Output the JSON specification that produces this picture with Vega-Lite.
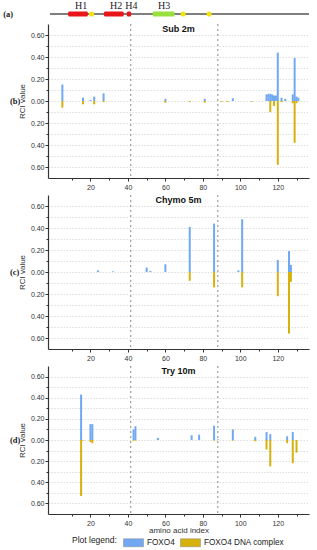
{
  "$schema": "https://vega.github.io/schema/vega-lite/v6.json",
  "padding": {"left": 3, "top": 0, "right": 5, "bottom": 1},
  "spacing": 17,
  "bounds": "flush",
  "config": {
    "view": {"stroke": null},
    "font": "Liberation Sans",
    "axis": {"labelFont": "Liberation Sans", "labelFontSize": 7, "labelColor": "#333", "labelOverlap": false, "domainColor": "#333", "domainWidth": 1.2, "tickColor": "#333", "tickSize": 3, "titleFont": "Liberation Sans", "titleFontSize": 8, "titleFontWeight": "normal", "titleColor": "#333"},
    "title": {"font": "Liberation Sans", "fontSize": 9, "fontWeight": "bold", "color": "#111", "anchor": "middle", "offset": -10}
  },
  "datasets": {
    "protein": [{"first": 1, "last": 134}],
    "helices": [
      {"helix": "H1", "start": 10.3, "end": 20.5, "label_at": 17},
      {"helix": "H2", "start": 28.7, "end": 38.9, "label_at": 35},
      {"helix": "H4", "start": 40.4, "end": 42.7, "label_at": 42.8},
      {"helix": "H3", "start": 53.7, "end": 65, "label_at": 59.6}
    ],
    "sites": [{"site": 22.4}, {"site": 69.4}, {"site": 82.7}],
    "cuts": [{"residue": 41.5}, {"residue": 88}],
    "sub": [
      {"idx": 5, "series": "FOXO4", "rci": 0.15}, {"idx": 16, "series": "FOXO4", "rci": 0.03}, {"idx": 20, "series": "FOXO4", "rci": 0.01}, {"idx": 22, "series": "FOXO4", "rci": 0.04}, {"idx": 27, "series": "FOXO4", "rci": 0.07}, {"idx": 60, "series": "FOXO4", "rci": 0.02}, {"idx": 81, "series": "FOXO4", "rci": 0.02}, {"idx": 96, "series": "FOXO4", "rci": 0.025}, {"idx": 114, "series": "FOXO4", "rci": 0.06}, {"idx": 115, "series": "FOXO4", "rci": 0.065}, {"idx": 116, "series": "FOXO4", "rci": 0.065}, {"idx": 117, "series": "FOXO4", "rci": 0.06}, {"idx": 118, "series": "FOXO4", "rci": 0.05}, {"idx": 119, "series": "FOXO4", "rci": 0.05}, {"idx": 120, "series": "FOXO4", "rci": 0.44}, {"idx": 122, "series": "FOXO4", "rci": 0.03}, {"idx": 124, "series": "FOXO4", "rci": 0.02}, {"idx": 128, "series": "FOXO4", "rci": 0.06}, {"idx": 129, "series": "FOXO4", "rci": 0.39}, {"idx": 130, "series": "FOXO4", "rci": 0.04}, {"idx": 131, "series": "FOXO4", "rci": 0.03},
      {"idx": 5, "series": "FOXO4 DNA complex", "rci": -0.06}, {"idx": 16, "series": "FOXO4 DNA complex", "rci": -0.03}, {"idx": 22, "series": "FOXO4 DNA complex", "rci": -0.03}, {"idx": 27, "series": "FOXO4 DNA complex", "rci": -0.01}, {"idx": 60, "series": "FOXO4 DNA complex", "rci": -0.015}, {"idx": 73, "series": "FOXO4 DNA complex", "rci": -0.008}, {"idx": 81, "series": "FOXO4 DNA complex", "rci": -0.015}, {"idx": 90, "series": "FOXO4 DNA complex", "rci": -0.008}, {"idx": 93, "series": "FOXO4 DNA complex", "rci": -0.008}, {"idx": 106, "series": "FOXO4 DNA complex", "rci": -0.006}, {"idx": 116, "series": "FOXO4 DNA complex", "rci": -0.1}, {"idx": 118, "series": "FOXO4 DNA complex", "rci": -0.045}, {"idx": 120, "series": "FOXO4 DNA complex", "rci": -0.58}, {"idx": 122, "series": "FOXO4 DNA complex", "rci": -0.01}, {"idx": 128, "series": "FOXO4 DNA complex", "rci": -0.02}, {"idx": 129, "series": "FOXO4 DNA complex", "rci": -0.38}, {"idx": 130, "series": "FOXO4 DNA complex", "rci": -0.02}
    ],
    "chymo": [
      {"idx": 24, "series": "FOXO4", "rci": 0.015}, {"idx": 32, "series": "FOXO4", "rci": 0.006}, {"idx": 50, "series": "FOXO4", "rci": 0.04}, {"idx": 52, "series": "FOXO4", "rci": 0.01}, {"idx": 60, "series": "FOXO4", "rci": 0.07}, {"idx": 73, "series": "FOXO4", "rci": 0.41}, {"idx": 86, "series": "FOXO4", "rci": 0.44}, {"idx": 99, "series": "FOXO4", "rci": 0.015}, {"idx": 101, "series": "FOXO4", "rci": 0.48}, {"idx": 120, "series": "FOXO4", "rci": 0.11}, {"idx": 126, "series": "FOXO4", "rci": 0.19}, {"idx": 127, "series": "FOXO4", "rci": 0.065},
      {"idx": 73, "series": "FOXO4 DNA complex", "rci": -0.08}, {"idx": 86, "series": "FOXO4 DNA complex", "rci": -0.14}, {"idx": 101, "series": "FOXO4 DNA complex", "rci": -0.14}, {"idx": 120, "series": "FOXO4 DNA complex", "rci": -0.22}, {"idx": 126, "series": "FOXO4 DNA complex", "rci": -0.56}, {"idx": 127, "series": "FOXO4 DNA complex", "rci": -0.09}
    ],
    "try": [
      {"idx": 15, "series": "FOXO4", "rci": 0.43}, {"idx": 20, "series": "FOXO4", "rci": 0.15}, {"idx": 21, "series": "FOXO4", "rci": 0.15}, {"idx": 43, "series": "FOXO4", "rci": 0.1}, {"idx": 44, "series": "FOXO4", "rci": 0.13}, {"idx": 56, "series": "FOXO4", "rci": 0.02}, {"idx": 74, "series": "FOXO4", "rci": 0.045}, {"idx": 78, "series": "FOXO4", "rci": 0.05}, {"idx": 86, "series": "FOXO4", "rci": 0.135}, {"idx": 88, "series": "FOXO4", "rci": 0.006}, {"idx": 96, "series": "FOXO4", "rci": 0.1}, {"idx": 108, "series": "FOXO4", "rci": 0.03}, {"idx": 114, "series": "FOXO4", "rci": 0.075}, {"idx": 116, "series": "FOXO4", "rci": 0.055}, {"idx": 125, "series": "FOXO4", "rci": 0.035}, {"idx": 128, "series": "FOXO4", "rci": 0.075},
      {"idx": 15, "series": "FOXO4 DNA complex", "rci": -0.53}, {"idx": 16, "series": "FOXO4 DNA complex", "rci": -0.006}, {"idx": 20, "series": "FOXO4 DNA complex", "rci": -0.02}, {"idx": 21, "series": "FOXO4 DNA complex", "rci": -0.03}, {"idx": 43, "series": "FOXO4 DNA complex", "rci": -0.006}, {"idx": 44, "series": "FOXO4 DNA complex", "rci": -0.006}, {"idx": 86, "series": "FOXO4 DNA complex", "rci": -0.006}, {"idx": 96, "series": "FOXO4 DNA complex", "rci": -0.006}, {"idx": 108, "series": "FOXO4 DNA complex", "rci": -0.012}, {"idx": 114, "series": "FOXO4 DNA complex", "rci": -0.09}, {"idx": 116, "series": "FOXO4 DNA complex", "rci": -0.25}, {"idx": 125, "series": "FOXO4 DNA complex", "rci": -0.03}, {"idx": 128, "series": "FOXO4 DNA complex", "rci": -0.22}, {"idx": 130, "series": "FOXO4 DNA complex", "rci": -0.12}
    ]
  },
  "vconcat": [
    {
      "width": 261, "height": 7,
      "layer": [
        {"data": {"name": "protein"}, "mark": {"type": "rule", "color": "#555", "strokeWidth": 1.5},
         "encoding": {"x": {"field": "first", "type": "quantitative", "scale": {"domain": [0, 134], "nice": false, "zero": false}, "axis": null}, "x2": {"field": "last"}, "y": {"datum": -1, "type": "quantitative", "scale": {"domain": [0, 1]}, "axis": null}}},
        {"data": {"name": "helices"}, "mark": {"type": "bar", "cornerRadius": 1.5},
         "encoding": {"x": {"field": "start", "type": "quantitative"}, "x2": {"field": "end"}, "y": {"datum": -0.64}, "y2": {"datum": -1.36}, "fill": {"field": "helix", "type": "nominal", "scale": {"domain": ["H1", "H2", "H3", "H4"], "range": ["#e8161b", "#e8161b", "#97e03e", "#e8161b"]}, "legend": null}}},
        {"data": {"name": "sites"}, "mark": {"type": "point", "filled": true, "color": "#f3e20c", "opacity": 1, "size": 26},
         "encoding": {"x": {"field": "site", "type": "quantitative"}, "y": {"datum": -1}}},
        {"data": {"name": "helices"}, "mark": {"type": "text", "font": "Liberation Serif", "fontSize": 10, "color": "#222", "baseline": "middle"},
         "encoding": {"x": {"field": "label_at", "type": "quantitative"}, "y": {"datum": 0.14}, "text": {"field": "helix"}}},
        {"data": {"values": [{}]}, "mark": {"type": "text", "font": "Liberation Serif", "fontWeight": "bold", "fontSize": 8.5, "align": "left", "baseline": "middle", "color": "#222"},
         "encoding": {"x": {"datum": -23}, "y": {"datum": -1}, "text": {"value": "(a)"}}}
      ]
    },
    {
      "width": 261, "height": 154,
      "title": {"text": "Sub 2m"},
      "resolve": {"axis": {"x": "independent", "y": "independent"}},
      "layer": [
        {"data": {"name": "sub"}, "mark": {"type": "bar", "size": 2, "orient": "vertical"},
         "encoding": {
           "x": {"field": "idx", "type": "quantitative", "scale": {"domain": [0, 134], "nice": false, "zero": false}, "axis": {"values": [20, 40, 60, 80, 100, 120], "labelFlush": false, "grid": false, "title": null, "labelPadding": 2}},
           "y": {"field": "rci", "type": "quantitative", "scale": {"domain": [-0.7, 0.7], "nice": false}, "axis": {"values": [-0.6, -0.4, -0.2, 0, 0.2, 0.4, 0.6], "labelExpr": "format(abs(datum.value), '.2f')", "labelFlush": false, "grid": true, "gridColor": "#d4d4d4", "gridDash": [1.5, 1.5], "gridWidth": 0.8, "title": "RCI value", "titlePadding": 4, "labelPadding": 1}},
           "y2": {"datum": 0},
           "color": {"field": "series", "type": "nominal", "scale": {"domain": ["FOXO4", "FOXO4 DNA complex"], "range": ["#70a8f2", "#d6b10d"]}, "legend": {"orient": "none", "legendX": 24, "legendY": 532, "direction": "horizontal", "title": "Plot legend:", "titleOrient": "left", "titleFontWeight": "normal", "titleFontSize": 8.5, "titleColor": "#222", "titlePadding": 6, "labelFontSize": 8.2, "labelColor": "#222", "labelOffset": 3, "columnPadding": 4, "symbolType": "M-1,-0.4H1V0.4H-1Z", "symbolSize": 400, "symbolStrokeColor": "#888", "symbolStrokeWidth": 0.5, "symbolOpacity": 1}}
         }},
        {"data": {"name": "cuts"}, "mark": {"type": "rule", "color": "#888", "strokeDash": [2, 3], "strokeWidth": 1},
         "encoding": {"x": {"field": "residue", "type": "quantitative", "axis": {"orient": "bottom", "values": [10, 30, 50, 70, 90, 110, 130], "labels": false, "domain": false, "grid": false, "tickSize": 2, "title": null}}}},
        {"mark": {"type": "rule", "color": "#555", "strokeWidth": 1},
         "encoding": {"y": {"datum": 0, "axis": {"orient": "left", "values": [-0.5, -0.3, -0.1, 0.1, 0.3, 0.5], "labels": false, "domain": false, "grid": true, "gridColor": "#d4d4d4", "gridDash": [1.5, 1.5], "gridWidth": 0.8, "tickSize": 2, "title": null}}}},
        {"data": {"values": [{}]}, "mark": {"type": "text", "font": "Liberation Serif", "fontWeight": "bold", "fontSize": 8.5, "align": "left", "baseline": "middle", "color": "#222"},
         "encoding": {"x": {"datum": -23, "axis": null}, "y": {"datum": 0, "axis": null}, "text": {"value": "(b)"}}}
      ]
    },
    {
      "width": 261, "height": 154,
      "title": {"text": "Chymo 5m"},
      "resolve": {"axis": {"x": "independent", "y": "independent"}},
      "layer": [
        {"data": {"name": "chymo"}, "mark": {"type": "bar", "size": 2, "orient": "vertical"},
         "encoding": {
           "x": {"field": "idx", "type": "quantitative", "scale": {"domain": [0, 134], "nice": false, "zero": false}, "axis": {"values": [20, 40, 60, 80, 100, 120], "labelFlush": false, "grid": false, "title": null, "labelPadding": 2}},
           "y": {"field": "rci", "type": "quantitative", "scale": {"domain": [-0.7, 0.7], "nice": false}, "axis": {"values": [-0.6, -0.4, -0.2, 0, 0.2, 0.4, 0.6], "labelExpr": "format(abs(datum.value), '.2f')", "labelFlush": false, "grid": true, "gridColor": "#d4d4d4", "gridDash": [1.5, 1.5], "gridWidth": 0.8, "title": "RCI value", "titlePadding": 4, "labelPadding": 1}},
           "y2": {"datum": 0},
           "color": {"field": "series", "type": "nominal", "scale": {"domain": ["FOXO4", "FOXO4 DNA complex"], "range": ["#70a8f2", "#d6b10d"]}}
         }},
        {"data": {"name": "cuts"}, "mark": {"type": "rule", "color": "#888", "strokeDash": [2, 3], "strokeWidth": 1},
         "encoding": {"x": {"field": "residue", "type": "quantitative", "axis": {"orient": "bottom", "values": [10, 30, 50, 70, 90, 110, 130], "labels": false, "domain": false, "grid": false, "tickSize": 2, "title": null}}}},
        {"mark": {"type": "rule", "color": "#555", "strokeWidth": 1},
         "encoding": {"y": {"datum": 0, "axis": {"orient": "left", "values": [-0.5, -0.3, -0.1, 0.1, 0.3, 0.5], "labels": false, "domain": false, "grid": true, "gridColor": "#d4d4d4", "gridDash": [1.5, 1.5], "gridWidth": 0.8, "tickSize": 2, "title": null}}}},
        {"data": {"values": [{}]}, "mark": {"type": "text", "font": "Liberation Serif", "fontWeight": "bold", "fontSize": 8.5, "align": "left", "baseline": "middle", "color": "#222"},
         "encoding": {"x": {"datum": -23, "axis": null}, "y": {"datum": 0, "axis": null}, "text": {"value": "(c)"}}}
      ]
    },
    {
      "width": 261, "height": 148,
      "title": {"text": "Try 10m"},
      "resolve": {"axis": {"x": "independent", "y": "independent"}},
      "layer": [
        {"data": {"name": "try"}, "mark": {"type": "bar", "size": 2, "orient": "vertical"},
         "encoding": {
           "x": {"field": "idx", "type": "quantitative", "scale": {"domain": [0, 134], "nice": false, "zero": false}, "axis": {"values": [20, 40, 60, 80, 100, 120], "labelFlush": false, "grid": false, "title": "amino acid index", "titlePadding": 0, "labelPadding": 2}},
           "y": {"field": "rci", "type": "quantitative", "scale": {"domain": [-0.7, 0.7], "nice": false}, "axis": {"values": [-0.6, -0.4, -0.2, 0, 0.2, 0.4, 0.6], "labelExpr": "format(abs(datum.value), '.2f')", "labelFlush": false, "grid": true, "gridColor": "#d4d4d4", "gridDash": [1.5, 1.5], "gridWidth": 0.8, "title": "RCI value", "titlePadding": 4, "labelPadding": 1}},
           "y2": {"datum": 0},
           "color": {"field": "series", "type": "nominal", "scale": {"domain": ["FOXO4", "FOXO4 DNA complex"], "range": ["#70a8f2", "#d6b10d"]}}
         }},
        {"data": {"name": "cuts"}, "mark": {"type": "rule", "color": "#888", "strokeDash": [2, 3], "strokeWidth": 1},
         "encoding": {"x": {"field": "residue", "type": "quantitative", "axis": {"orient": "bottom", "values": [10, 30, 50, 70, 90, 110, 130], "labels": false, "domain": false, "grid": false, "tickSize": 2, "title": null}}}},
        {"mark": {"type": "rule", "color": "#9a9a9a", "strokeWidth": 2},
         "encoding": {"y": {"datum": 0, "axis": {"orient": "left", "values": [-0.5, -0.3, -0.1, 0.1, 0.3, 0.5], "labels": false, "domain": false, "grid": true, "gridColor": "#d4d4d4", "gridDash": [1.5, 1.5], "gridWidth": 0.8, "tickSize": 2, "title": null}}}},
        {"data": {"values": [{}]}, "mark": {"type": "text", "font": "Liberation Serif", "fontWeight": "bold", "fontSize": 8.5, "align": "left", "baseline": "middle", "color": "#222"},
         "encoding": {"x": {"datum": -23, "axis": null}, "y": {"datum": 0, "axis": null}, "text": {"value": "(d)"}}}
      ]
    }
  ]
}
